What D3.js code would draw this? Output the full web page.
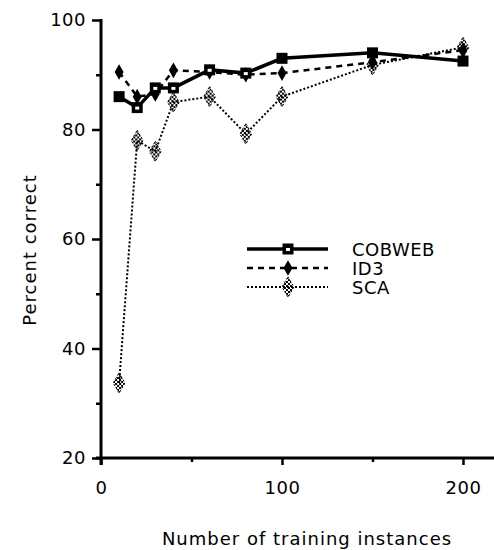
<!DOCTYPE html>
<html>
<head>
<meta charset="utf-8">
<script src="https://cdn.jsdelivr.net/npm/d3@7"></script>
<style>
  body { margin: 0; background: #fff; }
  text { font-family: "DejaVu Sans", sans-serif; fill: #000; }
</style>
</head>
<body>
<div id="chart"></div>
<script>
// data
let instances = [10, 20, 30, 40, 60, 80, 100, 150, 200];
let cobweb = [86, 84, 87.6, 87.6, 90.9, 90.3, 93, 94, 92.5];
let id3 = [90.5, 86, 86.5, 90.8, 90.5, 90, 90.3, 92.3, 94.5];
let sca = [33.7, 78, 76, 85, 86, 79.2, 86, 91.8, 95];
let yTicks = [20, 40, 60, 80, 100];
let yMinor = [30, 50, 70, 90];
let xTicks = [0, 100, 200];
let xMinor = [50, 150];
let seriesNames = ["COBWEB", "ID3", "SCA"];

let W = 494, H = 550;
let svg = d3.select("#chart").append("svg")
  .attr("width", W)
  .attr("height", H);

// checker pattern for the SCA markers
let pat = svg.append("defs").append("pattern")
  .attr("id", "checker")
  .attr("patternUnits", "userSpaceOnUse")
  .attr("width", 4).attr("height", 4);
pat.append("rect").attr("width", 2).attr("height", 2).attr("fill", "#000");
pat.append("rect").attr("x", 2).attr("y", 2).attr("width", 2).attr("height", 2).attr("fill", "#000");

let x = d3.scaleLinear().domain([0, 200]).range([101, 463]);
let y = d3.scaleLinear().domain([20, 100]).range([458, 20]);

// axes
svg.append("g").attr("transform", "translate(101,0)")
  .call(d3.axisLeft(y).tickValues(yTicks).tickSize(9).tickSizeOuter(0).tickPadding(6));
svg.append("g").attr("transform", "translate(101,0)")
  .call(d3.axisLeft(y).tickValues(yMinor).tickSize(5).tickFormat(""));
svg.append("g").attr("transform", "translate(0,458)")
  .call(d3.axisBottom(x).tickValues(xTicks).tickSize(7).tickSizeOuter(0).tickPadding(16));
svg.append("g").attr("transform", "translate(0,458)")
  .call(d3.axisBottom(x).tickValues(xMinor).tickSize(4).tickFormat(""));

svg.selectAll(".domain").remove();
svg.selectAll(".tick line").attr("stroke", "#000").attr("stroke-width", 2.5);
svg.selectAll(".tick text")
  .style("font-size", "18px")
  .style("font-family", "DejaVu Sans")
  .style("letter-spacing", "0.5px");

svg.append("line").attr("x1", 101).attr("x2", 101).attr("y1", 19).attr("y2", 465)
  .attr("stroke", "#000").attr("stroke-width", 3);
svg.append("line").attr("x1", 96).attr("x2", 494).attr("y1", 458).attr("y2", 458)
  .attr("stroke", "#000").attr("stroke-width", 3);

// axis titles
svg.append("text")
  .attr("x", 307).attr("y", 545)
  .style("font-size", "18px")
  .style("letter-spacing", "1px")
  .style("text-anchor", "middle")
  .text("Number of training instances");
svg.append("text")
  .attr("transform", "rotate(-90)")
  .attr("x", -250).attr("y", 36)
  .style("font-size", "18px")
  .style("letter-spacing", "1px")
  .style("text-anchor", "middle")
  .text("Percent correct");

let line = d3.line().x(d => x(d[0])).y(d => y(d[1]));

// SCA - dotted
let scaPts = instances.map((v, i) => [v, sca[i]]);
svg.append("path").datum(scaPts)
  .attr("d", line).attr("fill", "none")
  .attr("stroke", "#000").attr("stroke-width", 2)
  .attr("stroke-dasharray", "2,2");

// ID3 - dashed
let id3Pts = instances.map((v, i) => [v, id3[i]]);
svg.append("path").datum(id3Pts)
  .attr("d", line).attr("fill", "none")
  .attr("stroke", "#000").attr("stroke-width", 2.5)
  .attr("stroke-dasharray", "6,5");

// COBWEB - solid
let cobPts = instances.map((v, i) => [v, cobweb[i]]);
svg.append("path").datum(cobPts)
  .attr("d", line).attr("fill", "none")
  .attr("stroke", "#000").attr("stroke-width", 3.5);

// markers
function scaMarker(g, cx, cy) {
  g.append("path")
    .attr("d", d3.symbol().type(d3.symbolDiamond).size(120)())
    .attr("transform", "translate(" + cx + "," + cy + ")")
    .attr("fill", "url(#checker)")
    .attr("stroke", "#000").attr("stroke-width", 1)
    .attr("stroke-dasharray", "2,2");
}
function id3Marker(g, cx, cy) {
  g.append("path")
    .attr("d", d3.symbol().type(d3.symbolDiamond).size(70)())
    .attr("transform", "translate(" + cx + "," + cy + ")")
    .attr("fill", "#000");
}
function cobMarker(g, cx, cy, solid) {
  g.append("rect")
    .attr("x", cx - 5.5).attr("y", cy - 5.5)
    .attr("width", 11).attr("height", 11)
    .attr("fill", "#000");
  if (!solid) {
    g.append("rect")
      .attr("x", cx - 2).attr("y", cy - 1)
      .attr("width", 4).attr("height", 3)
      .attr("fill", "#fff");
  }
}

let marks = svg.append("g");
scaPts.forEach(d => scaMarker(marks, x(d[0]), y(d[1])));
id3Pts.forEach(d => id3Marker(marks, x(d[0]), y(d[1])));
cobPts.forEach((d, i) => cobMarker(marks, x(d[0]), y(d[1]), i == 0 || i >= 6));

// legend
let legY = [249, 268, 287];
let lg = svg.append("g");
lg.append("line").attr("x1", 247).attr("x2", 328).attr("y1", legY[0]).attr("y2", legY[0])
  .attr("stroke", "#000").attr("stroke-width", 3.5);
cobMarker(lg, 288, legY[0], false);
lg.append("line").attr("x1", 247).attr("x2", 328).attr("y1", legY[1]).attr("y2", legY[1])
  .attr("stroke", "#000").attr("stroke-width", 2.5).attr("stroke-dasharray", "6,5");
id3Marker(lg, 288, legY[1]);
lg.append("line").attr("x1", 247).attr("x2", 328).attr("y1", legY[2]).attr("y2", legY[2])
  .attr("stroke", "#000").attr("stroke-width", 2).attr("stroke-dasharray", "2,2");
scaMarker(lg, 288, legY[2]);

for (let i = 0; i < seriesNames.length; i++) {
  lg.append("text")
    .attr("x", 352).attr("y", legY[i] + 7)
    .style("font-size", "18px")
    .style("letter-spacing", "0.5px")
    .text(seriesNames[i]);
}
</script>
</body>
</html>
